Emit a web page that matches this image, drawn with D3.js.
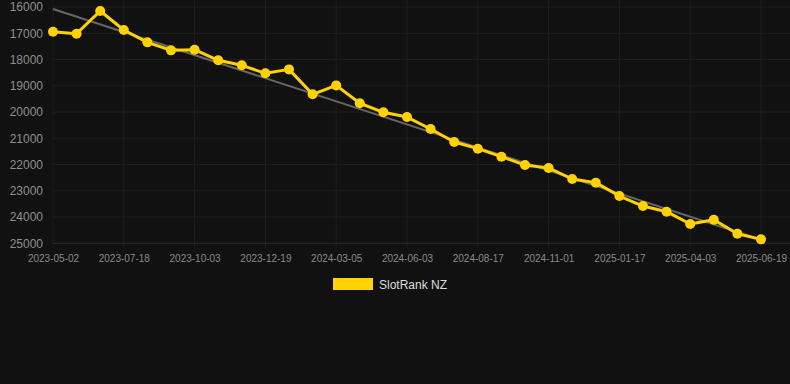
<!DOCTYPE html>
<html><head><meta charset="utf-8">
<script src="https://cdn.jsdelivr.net/npm/d3@7"></script>
<style>html,body{margin:0;padding:0;background:#111111;}svg{display:block;}</style>
</head><body>
<svg id="c" width="790" height="384"></svg>
<script>
const dates = ["2023-05-02","2023-05-28","2023-06-22","2023-07-18","2023-08-13","2023-09-07","2023-10-03","2023-10-29","2023-11-23","2023-12-19","2024-01-14","2024-02-08","2024-03-05","2024-04-04","2024-05-04","2024-06-03","2024-06-28","2024-07-23","2024-08-17","2024-09-11","2024-10-07","2024-11-01","2024-11-26","2024-12-23","2025-01-17","2025-02-11","2025-03-09","2025-04-03","2025-04-28","2025-05-24","2025-06-19"];
const ranks = [16940,17015,16150,16875,17345,17650,17625,18030,18220,18525,18375,19325,18985,19665,20010,20190,20645,21140,21395,21700,22020,22130,22550,22690,23200,23580,23795,24265,24100,24635,24850];
const trendEnds = [16075,24865];
const yTicks = [16000,17000,18000,19000,20000,21000,22000,23000,24000,25000];
const seriesName = "SlotRank NZ";

const svg = d3.select("#c");
const pL = 53, pR = 761, pT = 7.05, pB = 243.3;
const x = d3.scalePoint().domain(dates).range([pL, pR]);
const y = d3.scaleLinear().domain([16000, 25000]).range([pT, pB]);

// grid
const shownDates = dates.filter((d,i)=>i%3===0);
svg.append("g").selectAll("line").data(shownDates).join("line")
  .attr("x1",d=>x(d)).attr("x2",d=>x(d)).attr("y1",0).attr("y2",pB+5)
  .attr("stroke","#1f1f1f").attr("stroke-width",1);
svg.append("g").selectAll("line").data(yTicks).join("line")
  .attr("x1",pL).attr("x2",790).attr("y1",d=>y(d)).attr("y2",d=>y(d))
  .attr("stroke",d=>d===25000?"#2e2e2e":"#1f1f1f").attr("stroke-width",1);

// axes labels
const yAxis = d3.axisLeft(y).tickValues(yTicks).tickSize(0).tickPadding(0).tickFormat(d=>String(d));
const gy = svg.append("g").attr("transform",`translate(${pL-10},0)`).call(yAxis);
gy.select(".domain").remove();
gy.selectAll("text").attr("fill","#8f8f8f").style("font-family","Arial, Liberation Sans, sans-serif").style("font-size","12px");

const xAxis = d3.axisBottom(x).tickValues(shownDates).tickSize(0).tickPadding(0);
const gx = svg.append("g").attr("transform",`translate(0,${pB+12})`).call(xAxis);
gx.select(".domain").remove();
gx.selectAll("text").attr("fill","#8a8a8a").style("font-family","Arial, Liberation Sans, sans-serif").style("font-size","10px");

// trend line
svg.append("line")
  .attr("x1",x(dates[0])).attr("y1",y(trendEnds[0]))
  .attr("x2",x(dates[dates.length-1])).attr("y2",y(trendEnds[1]))
  .attr("stroke","#666666").attr("stroke-width",2);

// series
const color = "#ffd200";
const line = d3.line().x((d,i)=>x(dates[i])).y(d=>y(d));
svg.append("path").datum(ranks).attr("d",line).attr("fill","none").attr("stroke",color).attr("stroke-width",3).attr("stroke-linejoin","round");
svg.append("g").selectAll("circle").data(ranks).join("circle")
  .attr("cx",(d,i)=>x(dates[i])).attr("cy",d=>y(d)).attr("r",5).attr("fill",color);

// legend
const lg = svg.append("g");
lg.append("rect").attr("x",333).attr("y",278).attr("width",40).attr("height",12).attr("fill",color);
lg.append("text").attr("x",379).attr("y",288.5).text(seriesName).attr("fill","#dddddd")
  .style("font-family","Arial, Liberation Sans, sans-serif").style("font-size","12px");
</script>
</body></html>
